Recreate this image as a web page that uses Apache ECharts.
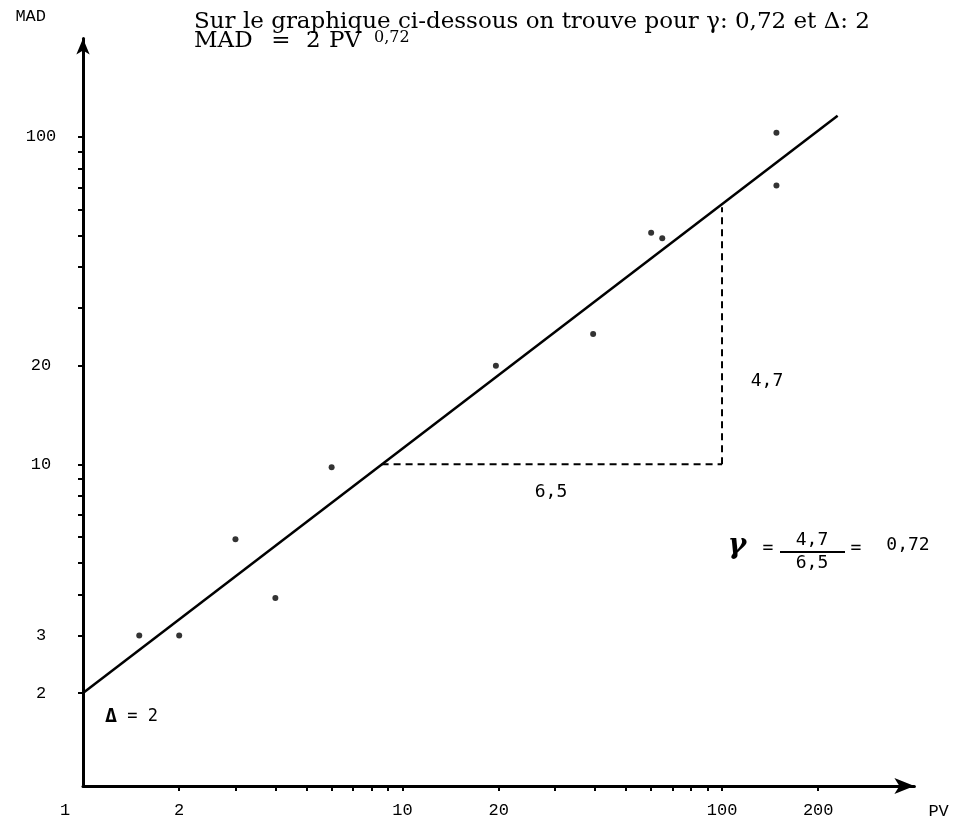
<!DOCTYPE html>
<html>
<head>
<meta charset="utf-8">
<script src="https://cdn.jsdelivr.net/npm/echarts@6/dist/echarts.min.js"></script>
<style>
html,body{margin:0;padding:0;background:#fff;}
#chart{width:962px;height:824px;}
</style>
</head>
<body>
<div id="chart"></div>
<script>
// ---- data ----
const xTickLabels = [1, 2, 10, 20, 100, 200];
const yTickLabels = [2, 3, 10, 20, 100];
const xTicks = [2, 3, 4, 5, 6, 7, 8, 9, 10, 20, 30, 40, 50, 60, 70, 80, 90, 100, 200];
const yTicks = [2, 3, 4, 5, 6, 7, 8, 9, 10, 20, 30, 40, 50, 60, 70, 80, 90, 100];
const pvValues  = [1.5, 2, 3, 4, 6, 19.6, 39.5, 60, 65, 148, 148];
const madValues = [3, 3, 5.9, 3.9, 9.8, 20, 25, 51, 49, 103, 71];
const fitPV  = [1, 230];
const fitMAD = [2, 116];
const runPV  = [8.6, 100];
const runMAD = [10, 10];
const risePV  = [100, 100];
const riseMAD = [10, 61];

const zip = (a, b) => a.map((v, i) => [v, b[i]]);

const chart = echarts.init(document.getElementById('chart'), null, {renderer: 'canvas'});
const mono = '"Liberation Mono", "DejaVu Sans Mono", monospace';
const smono = '"DejaVu Sans Mono", "Liberation Mono", monospace';
const serif = '"DejaVu Serif", "Liberation Serif", serif';

const option = {
  backgroundColor: '#fff',
  animation: false,
  grid: {left: 83, right: 47.6, top: 38.4, bottom: 38, containLabel: false},
  xAxis: {
    type: 'log', logBase: 10, min: 1, max: 400,
    name: 'PV', nameLocation: 'end', nameGap: 14,
    nameTextStyle: {fontFamily: mono, fontSize: 17, color: '#000', align: 'left', verticalAlign: 'top', padding: [17, 0, 0, 0]},
    axisLine: {show: true, symbol: ['none', 'arrow'], symbolSize: [12, 20], lineStyle: {color: '#000', width: 3}},
    axisTick: {show: true, inside: false, length: 5, customValues: xTicks, lineStyle: {color: '#000', width: 2}},
    minorTick: {show: false},
    axisLabel: {
      show: true, customValues: xTickLabels, margin: 16,
      fontFamily: mono, fontSize: 17, color: '#000',
      formatter: v => (Math.abs(v - 1) < 1e-9 ? '{s|1}' : String(Math.round(v))),
      rich: {s: {fontFamily: mono, fontSize: 17, color: '#000', padding: [0, 36, 0, 0]}}
    },
    splitLine: {show: false}
  },
  yAxis: {
    type: 'log', logBase: 10, min: 1.04, max: 200,
    name: 'MAD', nameLocation: 'end', nameGap: 22,
    nameTextStyle: {fontFamily: mono, fontSize: 17, color: '#000', align: 'right', verticalAlign: 'middle', padding: [0, 37, 0, 0]},
    axisLine: {show: true, symbol: ['none', 'arrow'], symbolSize: [10, 16], lineStyle: {color: '#000', width: 3}},
    axisTick: {show: true, inside: false, length: 5, customValues: yTicks, lineStyle: {color: '#000', width: 2}},
    minorTick: {show: false},
    axisLabel: {show: true, customValues: yTickLabels, margin: 42, align: 'center', fontFamily: mono, fontSize: 17, color: '#000'},
    splitLine: {show: false}
  },
  series: [
    {
      name: 'fit', type: 'line', data: zip(fitPV, fitMAD), showSymbol: false, symbol: 'none',
      lineStyle: {color: '#000', width: 2.5}, z: 3
    },
    {
      name: 'run', type: 'line', data: zip(runPV, runMAD), symbol: 'none',
      lineStyle: {color: '#000', width: 2, type: [7, 5]}
    },
    {
      name: 'rise', type: 'line', data: zip(risePV, riseMAD), symbol: 'none',
      lineStyle: {color: '#000', width: 2, type: [7, 5]}
    },
    {
      name: 'points', type: 'scatter', data: zip(pvValues, madValues),
      symbol: 'circle', symbolSize: 6, itemStyle: {color: '#000'}, z: 4
    }
  ],
  graphic: [
    {type: 'text', left: 194, top: 11, style: {text: 'Sur le graphique ci-dessous on trouve pour γ: 0,72 et Δ: 2', font: '23px ' + serif, fill: '#000'}},
    {type: 'text', left: 194, top: 30, style: {text: 'MAD', font: '23px ' + serif, fill: '#000'}},
    {type: 'text', x: 281, y: 30, style: {text: '=', font: '23px ' + serif, fill: '#000', align: 'center', verticalAlign: 'top'}},
    {type: 'text', left: 306, top: 30, style: {text: '2', font: '23px ' + serif, fill: '#000'}},
    {type: 'text', left: 329, top: 30, style: {text: 'PV', font: '23px ' + serif, fill: '#000'}},
    {type: 'text', left: 374, top: 30, style: {text: '0,72', font: '16px ' + serif, fill: '#000'}},
    {type: 'text', x: 767, y: 381, style: {text: '4,7', font: '18px ' + smono, fill: '#000', align: 'center', verticalAlign: 'middle'}},
    {type: 'text', x: 551, y: 492, style: {text: '6,5', font: '18px ' + smono, fill: '#000', align: 'center', verticalAlign: 'middle'}},
    {type: 'text', x: 105, y: 717, style: {text: '{d|Δ} = 2', font: '17px ' + smono, fill: '#000', align: 'left', verticalAlign: 'middle',
      rich: {d: {font: 'bold 20px ' + smono, fill: '#000'}}}},
    {type: 'text', x: 737, y: 546, style: {text: 'γ', font: 'bold italic 28px ' + serif, fill: '#000', align: 'center', verticalAlign: 'middle'}},
    {type: 'text', x: 768, y: 548, style: {text: '=', font: '18px ' + smono, fill: '#000', align: 'center', verticalAlign: 'middle'}},
    {type: 'text', x: 812, y: 540, style: {text: '4,7', font: '18px ' + smono, fill: '#000', align: 'center', verticalAlign: 'middle'}},
    {type: 'line', shape: {x1: 780, y1: 552, x2: 845, y2: 552}, style: {stroke: '#000', lineWidth: 2}},
    {type: 'text', x: 812, y: 563, style: {text: '6,5', font: '18px ' + smono, fill: '#000', align: 'center', verticalAlign: 'middle'}},
    {type: 'text', x: 856, y: 548, style: {text: '=', font: '18px ' + smono, fill: '#000', align: 'center', verticalAlign: 'middle'}},
    {type: 'text', x: 908, y: 545, style: {text: '0,72', font: '18px ' + smono, fill: '#000', align: 'center', verticalAlign: 'middle'}}
  ]
};
chart.setOption(option);
</script>
</body>
</html>
